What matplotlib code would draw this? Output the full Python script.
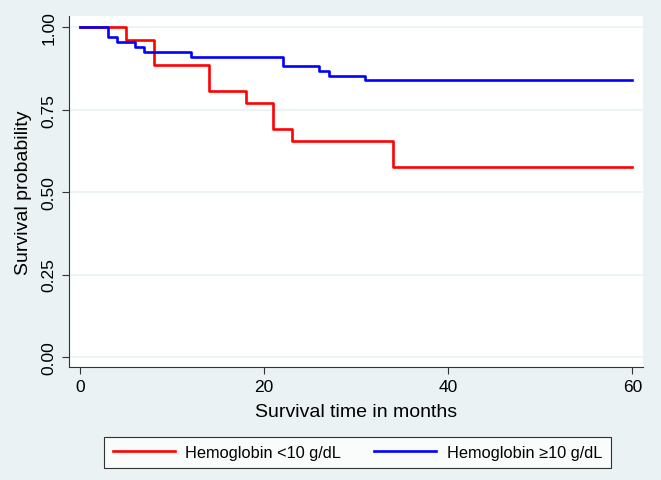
import matplotlib
matplotlib.use("Agg")
import matplotlib.pyplot as plt
from matplotlib.lines import Line2D

plt.rcParams['font.family'] = ['Liberation Sans', 'DejaVu Sans']

# Kaplan-Meier step data (time in months, survival probability)
low_times = [0, 5, 8, 14, 18, 21, 23, 34, 60]
low_surv = [1.00, 0.962, 0.885, 0.808, 0.769, 0.692, 0.654, 0.577, 0.577]

high_times = [0, 3, 4, 6, 7, 12, 22, 26, 27, 31, 60]
high_surv = [1.00, 0.970, 0.955, 0.941, 0.926, 0.911, 0.882, 0.868, 0.853, 0.839, 0.839]

x_ticks = [0, 20, 40, 60]
y_ticks = [0.00, 0.25, 0.50, 0.75, 1.00]
y_tick_labels = ["0.00", "0.25", "0.50", "0.75", "1.00"]
labels = ["Hemoglobin <10 g/dL", "Hemoglobin \u226510 g/dL"]

bg = "#eaf2f3"
fig = plt.figure(figsize=(6.61, 4.81), dpi=100, facecolor=bg)
ax = fig.add_axes([69/661, 1-368/481, (643-69)/661, (368-17)/481])
ax.set_facecolor("white")

ax.step(low_times, low_surv, where="post", color="#ff0000", lw=1.9, zorder=3)
ax.step(high_times, high_surv, where="post", color="#0000ff", lw=1.9, zorder=3)

ax.set_xlim(-1.2, 61.15)
ax.set_ylim(-0.0306, 1.0343)
ax.set_xticks(x_ticks)
ax.set_yticks(y_ticks)
ax.set_yticklabels(y_tick_labels, rotation=90, va="center")
for y in y_ticks:
    ax.axhline(y, color=bg, lw=1.2, zorder=1)

for s in ["top", "right"]:
    ax.spines[s].set_visible(False)
for s in ["left", "bottom"]:
    ax.spines[s].set_color("#333333")
    ax.spines[s].set_linewidth(0.8)
ax.tick_params(direction="out", length=5, width=0.8, color="#333333", labelsize=12.5, pad=4)

ax.set_xlabel("Survival time in months", fontsize=14, labelpad=6)
ax.set_ylabel("Survival probability", fontsize=14, labelpad=7)

handles = [Line2D([0], [0], color="#ff0000", lw=1.9), Line2D([0], [0], color="#0000ff", lw=1.9)]
leg = fig.legend(handles, labels, loc="center", bbox_to_anchor=(357.5/661, 1-453.5/481),
                 ncol=2, frameon=True, fancybox=False, edgecolor="black", fontsize=11.8,
                 handlelength=3.8, columnspacing=2.0, borderpad=0.5, handletextpad=0.65)
leg.get_frame().set_linewidth(0.8)

fig.savefig("out.png", dpi=100, facecolor=bg)
